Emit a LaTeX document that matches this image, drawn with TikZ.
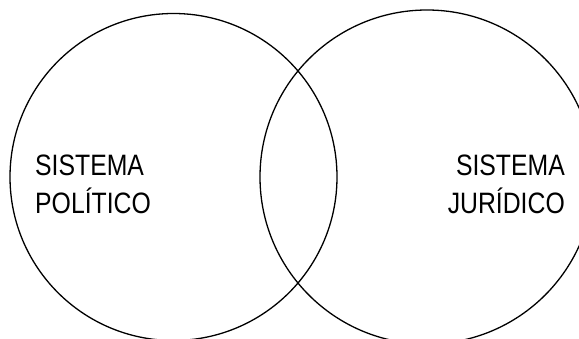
\documentclass[tikz,border=0pt]{standalone}
\usepackage{fontspec}
\setmainfont[FakeStretch=0.84]{Liberation Sans}
\begin{document}
\begin{tikzpicture}[x=1pt,y=-1pt,
  ring/.style={draw=black,line width=1.3pt},
  lbl/.style={inner sep=0pt,font=\fontsize{29.5}{38.5}\selectfont}]
\useasboundingbox (0,0) rectangle (579,339);
\begin{scope}
\clip (0,0) rectangle (579,339);
\draw[ring] (173.5,177) circle[radius=163.5];
\draw[ring] (427,177) circle[radius=167];
\end{scope}
\node[lbl,align=left,anchor=west] (pol) at (35,184.5) {SISTEMA\\POLÍTICO};
\node[lbl,align=right,anchor=east] (jur) at (565,184.5) {SISTEMA\\JURÍDICO};
\end{tikzpicture}
\end{document}
